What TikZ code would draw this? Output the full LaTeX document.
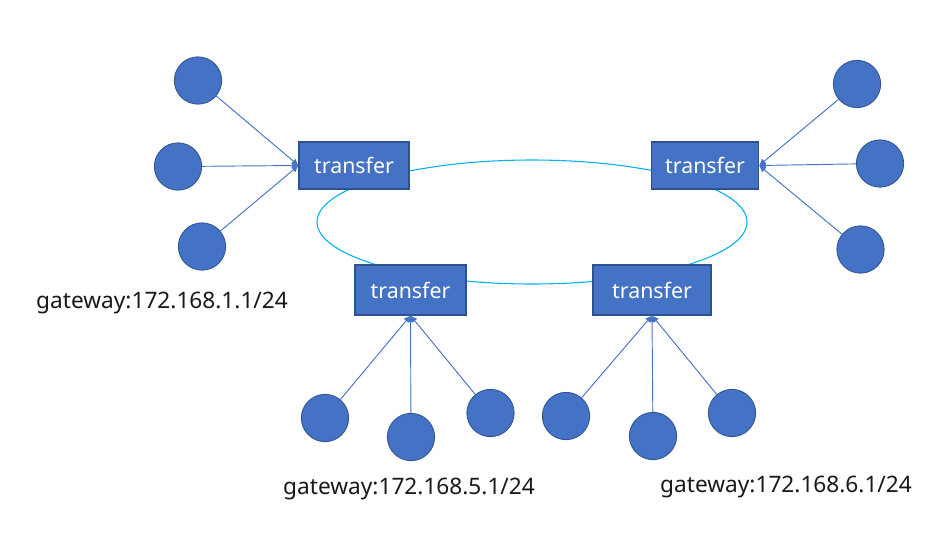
\documentclass[tikz,border=0pt]{standalone}
\usepackage{fontspec}
\setmainfont{Noto Sans}
\usetikzlibrary{arrows.meta}
\definecolor{boxblue}{HTML}{4472C4}
\definecolor{boxedge}{HTML}{2F528F}
\definecolor{ringc}{HTML}{00B0F0}
\tikzset{
  tbox/.style={draw=boxedge, line width=0.8pt, fill=boxblue, text=white, inner sep=0pt,
    font=\fontsize{16}{18}\selectfont},
  host/.style={circle, draw=boxedge, line width=0.6pt, fill=boxblue, minimum size=35.5pt, inner sep=0pt},
  conn/.style={draw=boxblue, line width=0.7pt, -{Latex[length=5pt,width=5pt]}},
  ring/.style={draw=ringc, line width=0.8pt},
  gw/.style={font=\fontsize{17}{19}\selectfont, text=black!90, inner sep=0pt}
}
\begin{document}
\begin{tikzpicture}[x=0.75pt,y=-0.75pt]
\useasboundingbox (0,0) rectangle (935,533);
% ring
\draw[ring] (532,222) ellipse [x radius=161.25pt, y radius=46.5pt];
% transfer boxes
\node[tbox, minimum width=82.5pt, minimum height=35.25pt] (A) at (354,165.5) {transfer};
\node[tbox, minimum width=80.25pt, minimum height=35.25pt] (B) at (705,165.5) {transfer};
\node[tbox, minimum width=83.25pt, minimum height=37.5pt] (C) at (410.5,290) {transfer};
\node[tbox, minimum width=88.5pt, minimum height=37.5pt] (D) at (652,290) {transfer};
% hosts
\node[host] (l1) at (198,80.5) {};
\node[host] (l2) at (178,166.5) {};
\node[host] (l3) at (202,246.5) {};
\node[host] (r1) at (857,84) {};
\node[host] (r2) at (880,163.5) {};
\node[host] (r3) at (860.5,249.5) {};
\node[host] (c1) at (325,418) {};
\node[host] (c2) at (411,437) {};
\node[host] (c3) at (490.5,413) {};
\node[host] (d1) at (566,416) {};
\node[host] (d2) at (653,436) {};
\node[host] (d3) at (732,413) {};
% connectors
\draw[conn] (l1) -- (A.west);
\draw[conn] (l2) -- (A.west);
\draw[conn] (l3) -- (A.west);
\draw[conn] (r1) -- (B.east);
\draw[conn] (r2) -- (B.east);
\draw[conn] (r3) -- (B.east);
\draw[conn] (c1) -- (C.south);
\draw[conn] (c2) -- (C.south);
\draw[conn] (c3) -- (C.south);
\draw[conn] (d1) -- (D.south);
\draw[conn] (d2) -- (D.south);
\draw[conn] (d3) -- (D.south);
% labels
\node[gw] (g1) at (162,303) {gateway:172.168.1.1/24};
\node[gw] (g2) at (409,489) {gateway:172.168.5.1/24};
\node[gw] (g3) at (786,487) {gateway:172.168.6.1/24};
\end{tikzpicture}
\end{document}
